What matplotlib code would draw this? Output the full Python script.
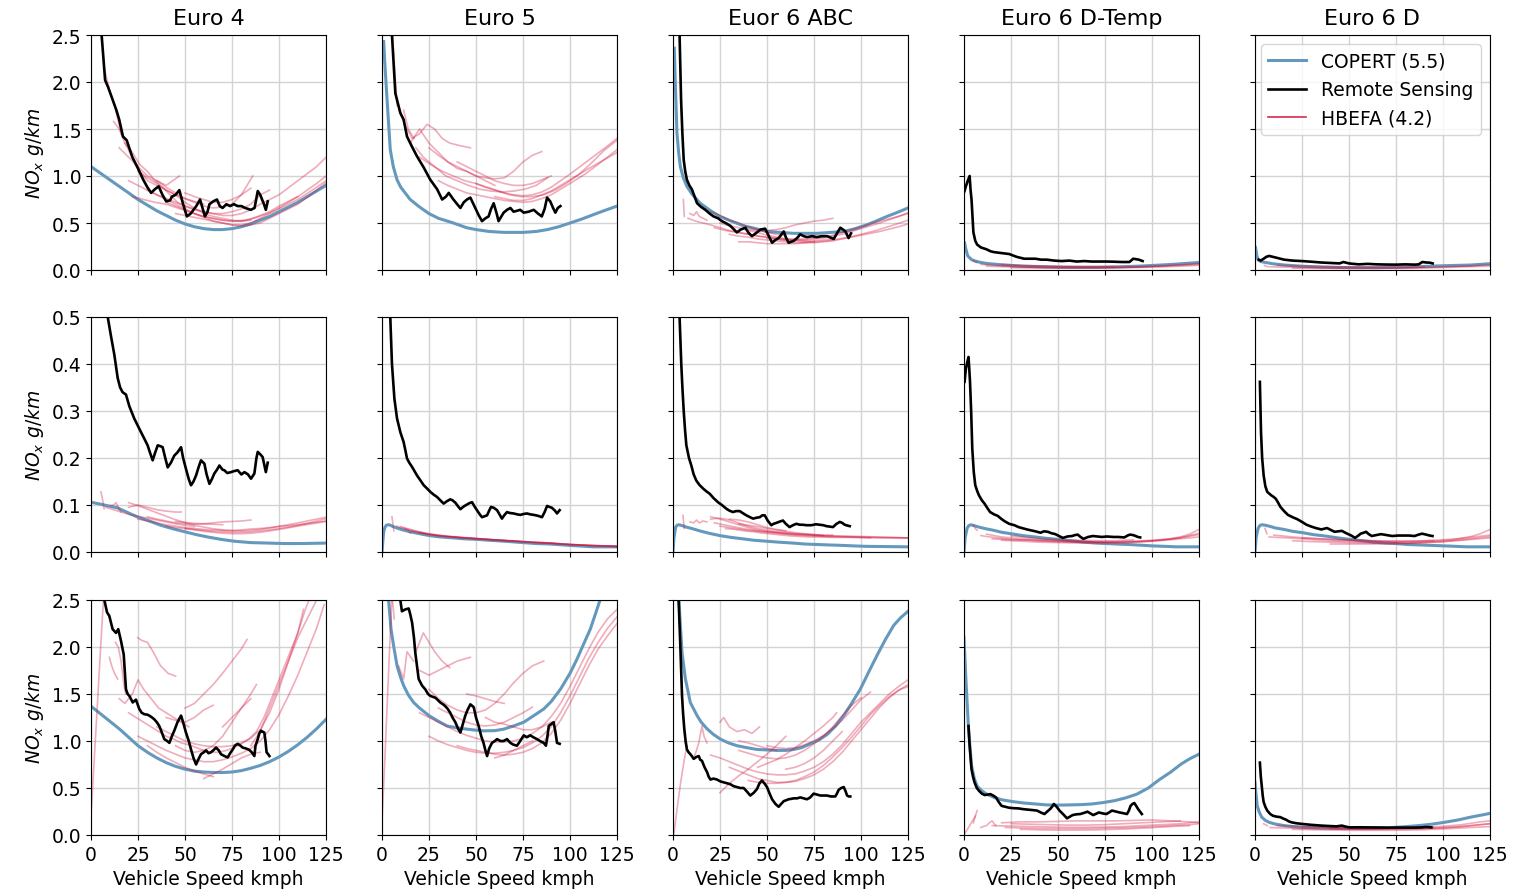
"""NOx emission factors vs vehicle speed: COPERT, remote sensing and HBEFA."""

import matplotlib
matplotlib.use('Agg')
from matplotlib import pyplot
from matplotlib.lines import Line2D

titles = ['Euro 4', 'Euro 5', 'Euor 6 ABC', 'Euro 6 D-Temp', 'Euro 6 D']
speed_ticks = [0, 25, 50, 75, 100, 125]
row_ylims = [2.5, 0.5, 2.5]
row_yticks = [[0.0, 0.5, 1.0, 1.5, 2.0, 2.5],
              [0.0, 0.1, 0.2, 0.3, 0.4, 0.5],
              [0.0, 0.5, 1.0, 1.5, 2.0, 2.5]]

# ---------------- row 1 ----------------
copert_1a = [(0, 1.10), (5, 1.03), (10, 0.96), (15, 0.89), (20, 0.82), (25, 0.75), (30, 0.69),
             (35, 0.63), (40, 0.58), (45, 0.53), (50, 0.49), (55, 0.46), (60, 0.44), (65, 0.43),
             (70, 0.43), (75, 0.44), (80, 0.46), (85, 0.49), (90, 0.53), (95, 0.57), (100, 0.62),
             (105, 0.67), (110, 0.72), (115, 0.78), (120, 0.84), (125, 0.90)]
remote_1a = [(4.5, 2.8), (7.5, 2.02), (9, 1.95), (11, 1.84), (13.5, 1.7), (15, 1.6), (17, 1.42),
             (19, 1.38), (22, 1.2), (25, 1.08), (27.8, 0.96), (30, 0.88), (32, 0.82), (34, 0.86),
             (36, 0.89), (38, 0.8), (40, 0.73), (42, 0.74), (43, 0.78), (45, 0.8), (47, 0.85),
             (49, 0.7), (51, 0.57), (53, 0.6), (56, 0.68), (58, 0.75), (60.6, 0.57), (62, 0.62),
             (63, 0.7), (65, 0.73), (67, 0.75), (68.5, 0.68), (70, 0.66), (72, 0.7), (74, 0.68),
             (76, 0.7), (78, 0.68), (80, 0.68), (82, 0.66), (85, 0.64), (87, 0.66), (88.7, 0.84),
             (90, 0.8), (91, 0.75), (92, 0.7), (93, 0.64), (94, 0.73)]
hbefa_1a = [
    [(5, 2.6), (7, 2.15), (10, 1.9), (13, 1.72), (16, 1.45), (19, 1.38)],
    [(12, 1.58), (15, 1.5), (18, 1.35), (22, 1.2), (26, 1.05), (30, 0.95), (35, 0.9), (40, 0.85),
     (45, 0.8), (50, 0.76), (55, 0.73), (60, 0.7)],
    [(15, 1.3), (20, 1.2), (25, 1.1), (30, 1.0), (35, 0.95), (40, 0.9), (47, 1.0)],
    [(18, 1.35), (22, 1.25), (26, 1.12), (30, 1.05), (34, 0.95), (38, 0.88), (42, 0.8), (46, 0.72),
     (50, 0.68), (55, 0.64), (60, 0.62), (65, 0.6), (70, 0.6), (75, 0.62), (80, 0.65), (85, 0.7),
     (90, 0.8), (95, 0.85)],
    [(20, 0.95), (25, 0.9), (30, 0.85), (35, 0.8), (40, 0.76), (45, 0.72), (50, 0.68), (55, 0.65),
     (60, 0.62), (65, 0.6), (70, 0.58), (75, 0.58), (80, 0.6), (85, 0.64), (90, 0.7), (100, 0.8),
     (110, 0.95), (120, 1.1), (125, 1.2)],
    [(22, 0.78), (28, 0.75), (34, 0.72), (40, 0.7), (46, 0.66), (52, 0.62), (58, 0.58), (64, 0.55),
     (70, 0.53), (76, 0.52), (82, 0.53), (88, 0.56), (94, 0.6), (100, 0.66), (110, 0.78),
     (120, 0.92), (125, 1.0)],
    [(25, 1.05), (30, 0.98), (35, 0.92), (40, 0.85), (45, 0.8), (50, 0.72), (55, 0.66), (60, 0.6),
     (65, 0.57), (70, 0.55), (75, 0.53), (80, 0.52), (85, 0.53)],
    [(30, 0.85), (35, 0.8), (40, 0.75), (45, 0.7), (50, 0.65), (55, 0.6), (60, 0.56), (65, 0.52),
     (70, 0.5), (75, 0.48), (80, 0.47), (85, 0.48), (90, 0.5), (95, 0.55), (100, 0.6), (110, 0.7),
     (120, 0.85), (125, 0.93)],
    [(35, 0.95), (40, 0.88), (45, 0.82), (50, 0.76), (55, 0.72), (60, 0.68), (65, 0.66), (70, 0.67),
     (75, 0.7), (80, 0.8), (86, 1.0)],
    [(40, 0.72), (45, 0.68), (50, 0.64), (55, 0.6), (60, 0.57), (65, 0.55), (70, 0.53), (75, 0.52),
     (80, 0.52), (85, 0.54), (90, 0.58), (95, 0.62), (100, 0.68), (105, 0.73), (110, 0.78)],
    [(45, 0.6), (50, 0.58), (55, 0.56), (60, 0.54), (65, 0.52), (70, 0.5), (75, 0.48), (80, 0.48),
     (85, 0.5), (90, 0.55), (95, 0.6), (100, 0.65), (110, 0.75), (120, 0.88), (125, 0.95)],
    [(50, 0.82), (55, 0.78), (60, 0.75), (65, 0.72), (70, 0.72), (75, 0.75), (80, 0.8), (85, 0.87)],
]

copert_1b = [(0.9, 2.43), (1.5, 2.2), (2.7, 1.81), (4.4, 1.28), (6, 1.1), (8, 0.96), (10, 0.88),
             (15, 0.75), (20, 0.67), (25, 0.60), (30, 0.55), (38, 0.50), (45, 0.45), (50, 0.43),
             (57, 0.41), (65, 0.40), (75, 0.40), (82, 0.41), (88, 0.43), (94, 0.46), (100, 0.50),
             (106, 0.54), (112.6, 0.59), (118, 0.63), (125, 0.68)]
remote_1b = [(5, 2.6), (5.3, 2.5), (7.1, 1.88), (9.75, 1.67), (11.5, 1.6), (13.3, 1.42), (16, 1.31),
             (18.6, 1.21), (22.2, 1.09), (25.7, 0.96), (29.3, 0.86), (32, 0.75), (34, 0.78),
             (35.5, 0.82), (38, 0.75), (40, 0.7), (41.7, 0.66), (43.5, 0.72), (45.2, 0.75), (47, 0.77),
             (49.6, 0.66), (51.5, 0.58), (53.2, 0.52), (55, 0.55), (56.7, 0.57), (58, 0.65),
             (59.4, 0.71), (61, 0.6), (62, 0.52), (64.7, 0.61), (66.5, 0.64), (68.3, 0.66), (70, 0.62),
             (71.8, 0.63), (73.5, 0.64), (75.4, 0.61), (78, 0.62), (80.7, 0.64), (83, 0.6), (85, 0.57),
             (86.5, 0.65), (87.8, 0.77), (89.5, 0.73), (91, 0.66), (92.2, 0.61), (93.5, 0.66),
             (94.9, 0.68)]
hbefa_1b = [
    [(5.5, 2.5), (6.5, 2.2), (7.5, 1.9), (8, 1.75)],
    [(11.5, 1.7), (14, 1.5), (17, 1.4)],
    [(9.5, 1.7), (12, 1.55), (16, 1.4), (20, 1.45), (24, 1.55), (28, 1.5), (32, 1.4), (36, 1.35),
     (42, 1.32), (47, 1.3)],
    [(15, 1.35), (20, 1.5), (25, 1.35), (30, 1.25), (35, 1.15), (40, 1.1), (45, 1.05), (50, 1.0),
     (55, 0.95), (60, 0.9)],
    [(18, 1.3), (22, 1.2), (28, 1.1), (34, 1.0), (40, 0.95), (46, 0.9), (52, 0.86), (58, 0.84),
     (64, 0.83), (70, 0.84), (76, 0.86), (82, 0.9), (88, 0.98)],
    [(20, 1.2), (26, 1.12), (32, 1.05), (38, 1.0), (44, 0.95), (50, 0.92), (56, 0.88), (62, 0.84),
     (68, 0.8), (74, 0.78), (80, 0.78), (86, 0.8), (92, 0.85), (98, 0.92), (105, 1.02), (112, 1.15),
     (118, 1.27), (125, 1.38)],
    [(25, 1.3), (30, 1.22), (35, 1.15), (40, 1.08), (45, 1.05), (50, 1.0), (55, 0.98), (60, 0.97),
     (65, 0.98), (70, 1.05), (75, 1.15), (80, 1.22), (85, 1.26)],
    [(30, 0.95), (35, 0.9), (40, 0.86), (45, 0.82), (50, 0.8), (55, 0.78), (60, 0.76), (65, 0.74),
     (70, 0.73), (75, 0.72), (80, 0.73), (85, 0.76), (90, 0.8), (95, 0.86), (100, 0.92), (108, 1.02),
     (116, 1.14), (125, 1.28)],
    [(40, 1.15), (45, 1.1), (50, 1.05), (55, 1.0), (60, 0.95), (65, 0.92), (70, 0.9), (75, 0.9),
     (80, 0.92), (85, 0.96), (90, 1.0)],
    [(50, 0.92), (55, 0.88), (60, 0.85), (65, 0.82), (70, 0.8), (75, 0.79), (80, 0.8), (85, 0.83),
     (90, 0.88), (95, 0.95), (100, 1.02), (110, 1.17), (120, 1.32), (125, 1.4)],
    [(60, 0.78), (65, 0.76), (70, 0.74), (75, 0.74), (80, 0.76), (85, 0.8), (90, 0.84), (95, 0.9),
     (100, 0.96), (110, 1.08), (125, 1.25)],
]

copert_1c = [(0.7, 2.36), (1.2, 2.0), (2.1, 1.46), (3, 1.25), (3.9, 1.10), (5.5, 0.98), (7.4, 0.89),
             (10, 0.81), (14.5, 0.71), (20, 0.63), (25, 0.57), (31, 0.52), (37.6, 0.47), (44, 0.44),
             (50, 0.41), (57, 0.40), (64, 0.39), (70, 0.39), (76.6, 0.39), (84, 0.40), (90.8, 0.41),
             (97, 0.44), (103, 0.48), (108, 0.52), (113.8, 0.57), (119, 0.61), (125, 0.66)]
remote_1c = [(3.3, 2.7), (3.5, 2.5), (4.3, 1.81), (5, 1.45), (5.7, 1.17), (6.5, 1.05), (7.4, 0.96),
             (8.7, 0.9), (10, 0.86), (11.5, 0.78), (12.8, 0.71), (15, 0.67), (17.2, 0.64), (19.5, 0.6),
             (21.6, 0.57), (24, 0.55), (26, 0.52), (28, 0.5), (30.5, 0.47), (32, 0.44), (34, 0.40),
             (36, 0.43), (38.5, 0.45), (40, 0.4), (42, 0.36), (44, 0.39), (46.5, 0.43), (49, 0.44),
             (51, 0.36), (52.7, 0.29), (54.5, 0.32), (56.2, 0.34), (58.9, 0.41), (60, 0.35),
             (61.5, 0.29), (64.2, 0.31), (66, 0.34), (67.7, 0.38), (69.5, 0.36), (71.3, 0.35),
             (74, 0.36), (76.6, 0.35), (79, 0.36), (82, 0.36), (85.5, 0.33), (87.5, 0.4), (89, 0.45),
             (90.5, 0.43), (91.7, 0.41), (93.4, 0.34), (94.7, 0.39)]
hbefa_1c = [
    [(5.5, 0.75), (5.8, 0.65), (6, 0.57)],
    [(9, 0.6), (11, 0.58), (12.5, 0.62), (14, 0.57), (16, 0.55), (18, 0.53)],
    [(8, 0.55), (12, 0.52), (16, 0.5), (20, 0.48), (25, 0.45), (30, 0.42), (35, 0.4), (40, 0.38),
     (45, 0.36), (50, 0.35), (55, 0.34), (60, 0.33), (65, 0.33), (70, 0.33), (75, 0.34), (80, 0.35),
     (85, 0.37), (90, 0.4), (95, 0.43), (100, 0.46), (110, 0.52), (118, 0.56), (125, 0.6)],
    [(20, 0.62), (25, 0.58), (30, 0.53), (35, 0.5), (40, 0.46), (45, 0.43), (50, 0.4), (55, 0.38),
     (60, 0.37)],
    [(22, 0.45), (28, 0.42), (34, 0.4), (40, 0.38), (46, 0.36), (52, 0.34), (58, 0.32), (64, 0.31),
     (70, 0.3), (76, 0.3), (82, 0.31), (88, 0.33), (94, 0.35), (100, 0.38), (108, 0.42), (116, 0.47),
     (125, 0.53)],
    [(25, 0.5), (30, 0.47), (35, 0.45), (40, 0.42), (45, 0.4), (50, 0.37), (55, 0.35), (60, 0.33),
     (65, 0.32), (70, 0.31), (75, 0.31), (80, 0.32), (85, 0.33)],
    [(30, 0.38), (35, 0.36), (40, 0.35), (45, 0.33), (50, 0.32), (55, 0.31), (60, 0.3), (65, 0.29),
     (70, 0.29), (75, 0.29), (80, 0.3), (85, 0.31), (90, 0.33), (95, 0.35), (100, 0.37), (110, 0.41),
     (120, 0.46), (125, 0.49)],
    [(40, 0.43), (45, 0.42), (50, 0.42), (55, 0.43), (60, 0.45), (65, 0.48), (70, 0.5), (75, 0.52),
     (80, 0.53), (85, 0.55)],
    [(50, 0.34), (55, 0.33), (60, 0.32), (65, 0.32), (70, 0.32), (75, 0.33), (80, 0.34), (85, 0.36),
     (90, 0.38), (95, 0.41), (100, 0.44), (110, 0.5), (120, 0.57), (125, 0.61)],
    [(35, 0.3), (40, 0.3), (45, 0.29), (50, 0.28), (55, 0.28), (60, 0.28), (65, 0.28), (70, 0.29),
     (75, 0.3)],
]

copert_1d = [(0.3, 0.29), (1, 0.22), (2, 0.15), (4, 0.11), (6, 0.095), (9, 0.08), (12, 0.07),
             (20, 0.055), (32, 0.04), (42, 0.034), (52, 0.03), (62, 0.029), (72, 0.03), (82, 0.034),
             (92, 0.04), (102, 0.05), (111, 0.06), (118, 0.07), (125, 0.08)]
remote_1d = [(0.3, 0.84), (1, 0.89), (2, 0.95), (3, 1.0), (3.5, 0.85), (4, 0.75), (5, 0.4), (6, 0.31),
             (7, 0.27), (9, 0.24), (12, 0.22), (14, 0.2), (16, 0.19), (20, 0.18), (24, 0.17),
             (28, 0.14), (32, 0.12), (35, 0.12), (38, 0.12), (41, 0.11), (44, 0.11), (48, 0.10),
             (52, 0.095), (56, 0.1), (60, 0.09), (64, 0.095), (68, 0.09), (72, 0.09), (76, 0.09),
             (80, 0.088), (84, 0.085), (88, 0.085), (90, 0.12), (91.5, 0.115), (93, 0.11), (95, 0.095)]
hbefa_1d = [
    [(5, 0.1), (6, 0.085), (7, 0.08)],
    [(9, 0.06), (15, 0.05), (25, 0.045), (35, 0.04), (45, 0.035), (55, 0.032), (65, 0.03), (75, 0.03),
     (85, 0.032), (95, 0.036), (105, 0.045), (115, 0.055), (125, 0.068)],
    [(12, 0.04), (20, 0.035), (30, 0.03), (40, 0.027), (50, 0.025), (60, 0.024), (70, 0.024),
     (80, 0.026), (90, 0.03), (100, 0.036), (110, 0.045), (125, 0.06)],
    [(20, 0.06), (30, 0.05), (40, 0.045), (50, 0.04), (60, 0.037), (70, 0.035), (80, 0.035)],
    [(25, 0.025), (35, 0.022), (45, 0.02), (55, 0.02), (65, 0.02), (75, 0.021), (85, 0.023),
     (95, 0.027), (105, 0.033), (115, 0.04), (125, 0.05)],
]

copert_1e = [(0.3, 0.24), (1, 0.15), (1.6, 0.11), (3, 0.09), (5.6, 0.08), (10, 0.065), (15.5, 0.053),
             (25, 0.04), (35, 0.032), (45, 0.027), (55, 0.025), (65, 0.025), (75, 0.028), (85, 0.034),
             (95, 0.042), (105, 0.048), (115, 0.053), (125, 0.067)]
remote_1e = [(2, 0.11), (3, 0.1), (4.6, 0.12), (6, 0.14), (7.5, 0.15), (9.5, 0.14), (11.5, 0.13),
             (13.5, 0.12), (15.5, 0.11), (20, 0.1), (25, 0.095), (30, 0.088), (35, 0.08), (40, 0.075),
             (45, 0.07), (47, 0.085), (50, 0.07), (55, 0.06), (60, 0.065), (65, 0.06), (70, 0.058),
             (75, 0.057), (80, 0.06), (85, 0.057), (87, 0.06), (89, 0.085), (91, 0.08), (93, 0.078),
             (94.5, 0.07)]
hbefa_1e = [
    [(5, 0.05), (6, 0.04), (7, 0.035)],
    [(8, 0.035), (15, 0.03), (25, 0.027), (35, 0.025), (45, 0.023), (55, 0.022), (65, 0.022),
     (75, 0.023), (85, 0.025), (95, 0.03), (105, 0.037), (115, 0.045), (125, 0.055)],
    [(12, 0.05), (20, 0.045), (30, 0.04), (40, 0.036), (50, 0.033), (60, 0.03), (70, 0.03), (80, 0.03),
     (90, 0.033)],
    [(20, 0.02), (30, 0.018), (40, 0.017), (50, 0.016), (60, 0.016), (70, 0.017), (80, 0.018),
     (90, 0.021), (100, 0.026), (110, 0.032), (125, 0.042)],
]

# ---------------- row 2 ----------------
copert_2a = [(0, 0.106), (7, 0.1), (14, 0.094), (20, 0.083), (25, 0.074), (31, 0.066), (37, 0.057),
             (43, 0.05), (50, 0.043), (56, 0.037), (62, 0.032), (69, 0.027), (76, 0.023), (85, 0.02),
             (94, 0.019), (103, 0.018), (112, 0.018), (125, 0.019)]
remote_2a = [(8.5, 0.53), (8.9, 0.5), (10.6, 0.46), (12.4, 0.42), (14.2, 0.37), (15.5, 0.35),
             (16.8, 0.34), (18.6, 0.335), (20.4, 0.31), (23, 0.284), (26.6, 0.255), (28.5, 0.24),
             (30.1, 0.227), (31.5, 0.21), (32.8, 0.195), (34, 0.21), (35.5, 0.227), (37, 0.225),
             (38.1, 0.223), (39.5, 0.2), (40.8, 0.18), (42.5, 0.19), (44.3, 0.205), (46, 0.212),
             (47.9, 0.223), (49, 0.2), (50.5, 0.177), (52, 0.155), (53.2, 0.142), (54.5, 0.15),
             (55.9, 0.163), (57.2, 0.18), (58.5, 0.195), (60.3, 0.188), (61.5, 0.165), (63, 0.145),
             (64.3, 0.155), (65.6, 0.167), (67, 0.175), (68.3, 0.184), (70, 0.175), (70.9, 0.174),
             (72.5, 0.168), (74.5, 0.17), (76, 0.172), (78, 0.174), (80, 0.165), (81.6, 0.17),
             (83.5, 0.165), (85.1, 0.156), (86.9, 0.167), (88, 0.2), (88.7, 0.213), (90, 0.208),
             (91.3, 0.202), (92.2, 0.185), (93, 0.17), (94, 0.19)]
hbefa_2a = [
    [(5.3, 0.128), (6, 0.115), (7, 0.092)],
    [(10.6, 0.099), (12, 0.1), (13.3, 0.105), (14.5, 0.095), (16, 0.085)],
    [(8, 0.095), (12, 0.09), (16, 0.085), (20, 0.08), (25, 0.076), (30, 0.072), (35, 0.068),
     (40, 0.064), (45, 0.06), (50, 0.057), (55, 0.054)],
    [(20, 0.105), (24, 0.1), (28, 0.094), (32, 0.088), (36, 0.082), (40, 0.076), (44, 0.07),
     (48, 0.065), (52, 0.06), (56, 0.056), (60, 0.053), (64, 0.05), (68, 0.048), (72, 0.046),
     (76, 0.045), (80, 0.045), (85, 0.046), (90, 0.048), (95, 0.051), (100, 0.055), (105, 0.058),
     (110, 0.062), (115, 0.066), (120, 0.07), (125, 0.074)],
    [(20, 0.095), (25, 0.1), (30, 0.095), (35, 0.09), (40, 0.087), (45, 0.085), (48, 0.085)],
    [(25, 0.07), (30, 0.066), (35, 0.062), (40, 0.058), (45, 0.055), (50, 0.052), (55, 0.05),
     (60, 0.048), (65, 0.047), (70, 0.046), (75, 0.046), (80, 0.047), (85, 0.049), (90, 0.05),
     (95, 0.052), (100, 0.054), (110, 0.058), (125, 0.066)],
    [(30, 0.075), (35, 0.07), (40, 0.066), (45, 0.062), (50, 0.06), (55, 0.059), (60, 0.06),
     (65, 0.062), (70, 0.064), (75, 0.065), (80, 0.066), (85, 0.068)],
    [(40, 0.055), (45, 0.052), (50, 0.05), (55, 0.048), (60, 0.046), (65, 0.044), (70, 0.043),
     (75, 0.042), (80, 0.042), (85, 0.043), (90, 0.045), (95, 0.047), (100, 0.05), (105, 0.053),
     (110, 0.057), (115, 0.061), (120, 0.066), (125, 0.071)],
    [(45, 0.065), (50, 0.063), (55, 0.061), (60, 0.06), (65, 0.059), (70, 0.058)],
    [(50, 0.05), (55, 0.047), (60, 0.044), (65, 0.042), (70, 0.04), (75, 0.039), (80, 0.039),
     (85, 0.04), (90, 0.042), (95, 0.045), (100, 0.048), (110, 0.055), (125, 0.065)],
]

copert_2b = [(0, 0), (0.5, 0.025), (0.9, 0.043), (1.5, 0.052), (2.3, 0.057), (3.5, 0.058),
             (4.4, 0.057), (6, 0.054), (8, 0.051), (11, 0.047), (15, 0.043), (20, 0.039), (25, 0.035),
             (31, 0.032), (38, 0.03), (44, 0.028), (50, 0.027), (57, 0.025), (65, 0.023), (75, 0.02),
             (82, 0.018), (89.5, 0.017), (100, 0.014), (112.6, 0.011), (125, 0.011)]
remote_2b = [(4.3, 0.53), (4.4, 0.5), (5.3, 0.40), (6.6, 0.326), (8, 0.284), (9.75, 0.255),
             (11.5, 0.234), (12.5, 0.215), (13.3, 0.199), (14.5, 0.19), (16, 0.181), (18.6, 0.163),
             (20.5, 0.152), (22.2, 0.142), (24, 0.135), (25.7, 0.128), (27.5, 0.122), (29.3, 0.117),
             (31, 0.11), (32.8, 0.103), (34.5, 0.108), (36.3, 0.112), (37.5, 0.11), (39, 0.105),
             (40.5, 0.097), (41.7, 0.091), (43.5, 0.097), (45.2, 0.101), (46.5, 0.104), (47.9, 0.106),
             (49.2, 0.097), (50.5, 0.089), (52, 0.08), (53.2, 0.074), (54.5, 0.076), (55.9, 0.078),
             (57, 0.088), (58, 0.096), (59.5, 0.094), (61.2, 0.089), (62.5, 0.08), (63.8, 0.071),
             (65, 0.078), (66.5, 0.085), (68, 0.083), (70, 0.082), (72, 0.08), (73.6, 0.079),
             (75.5, 0.081), (77.1, 0.082), (79, 0.08), (80.7, 0.079), (83, 0.077), (85.1, 0.074),
             (86.5, 0.085), (87.8, 0.098), (89, 0.096), (90.4, 0.094), (92, 0.088), (93.1, 0.082),
             (94.5, 0.089)]
hbefa_2b = [
    [(5.3, 0.075), (5.8, 0.06), (6.3, 0.045)],
    [(8, 0.055), (10, 0.052), (12, 0.05), (14, 0.046), (15, 0.04), (16, 0.044), (20, 0.04),
     (25, 0.037), (30, 0.034), (40, 0.031), (50, 0.028), (60, 0.025), (70, 0.023), (80, 0.02),
     (90, 0.018), (100, 0.016), (110, 0.014), (125, 0.012)],
    [(10, 0.054), (15, 0.048), (20, 0.043), (25, 0.039), (30, 0.036), (40, 0.032), (50, 0.029),
     (60, 0.026), (70, 0.024), (80, 0.021), (90, 0.019), (100, 0.016), (110, 0.014), (125, 0.012)],
    [(12, 0.05), (18, 0.044), (25, 0.038), (35, 0.033), (45, 0.03), (55, 0.027), (65, 0.024),
     (75, 0.022), (85, 0.02), (95, 0.017), (105, 0.015), (115, 0.013), (125, 0.011)],
    [(20, 0.041), (30, 0.035), (40, 0.031), (50, 0.028), (60, 0.026), (70, 0.023), (80, 0.021),
     (90, 0.019), (100, 0.016), (125, 0.012)],
]

copert_2c = [(0, 0), (0.5, 0.03), (1.4, 0.053), (2.2, 0.057), (3.2, 0.058), (5, 0.056), (7.1, 0.053),
             (10, 0.05), (14.2, 0.045), (19, 0.04), (24.8, 0.035), (31, 0.031), (37.2, 0.028),
             (43, 0.025), (49.6, 0.023), (56, 0.021), (63.8, 0.019), (70, 0.017), (76.2, 0.016),
             (83, 0.015), (90.4, 0.014), (96, 0.013), (102.8, 0.012), (114, 0.0115), (125, 0.011)]
remote_2c = [(3.3, 0.53), (3.5, 0.5), (4.4, 0.40), (5, 0.35), (5.7, 0.30), (6.4, 0.26), (7.1, 0.227),
             (8.5, 0.2), (9.75, 0.184), (11, 0.165), (12.4, 0.152), (14, 0.143), (16, 0.135),
             (17.8, 0.129), (19.5, 0.124), (21.5, 0.115), (23.9, 0.106), (26, 0.1), (28.4, 0.092),
             (30, 0.088), (31.9, 0.085), (33.5, 0.087), (35.5, 0.087), (37, 0.083), (39, 0.078),
             (41, 0.074), (42.6, 0.071), (44.5, 0.073), (46.1, 0.074), (47.5, 0.078), (48.8, 0.078),
             (50.5, 0.066), (52.3, 0.057), (53.5, 0.06), (55, 0.062), (57, 0.065), (58.5, 0.067),
             (60, 0.06), (62, 0.053), (63.8, 0.057), (65.6, 0.06), (67.5, 0.058), (69.1, 0.058),
             (71, 0.057), (73.6, 0.057), (76, 0.059), (78, 0.058), (80, 0.057), (81.6, 0.055),
             (83.5, 0.054), (85.1, 0.053), (87, 0.06), (88.7, 0.064), (90, 0.062), (91.3, 0.058),
             (93, 0.056), (94, 0.055)]
hbefa_2c = [
    [(5.3, 0.078), (5.6, 0.065), (6, 0.05)],
    [(9, 0.064), (11, 0.062), (12.5, 0.068), (14, 0.062), (16, 0.066), (18, 0.064)],
    [(20, 0.075), (25, 0.07), (30, 0.064), (35, 0.058), (40, 0.052), (45, 0.047), (50, 0.044),
     (55, 0.042), (60, 0.04), (70, 0.037), (80, 0.035), (90, 0.034), (100, 0.033), (110, 0.032),
     (125, 0.03)],
    [(20, 0.07), (24, 0.072), (28, 0.07), (32, 0.066), (36, 0.06), (40, 0.055), (45, 0.05),
     (50, 0.046), (55, 0.043), (60, 0.041), (65, 0.039), (70, 0.038), (75, 0.037), (80, 0.036),
     (85, 0.036)],
    [(22, 0.062), (27, 0.058), (32, 0.054), (37, 0.05), (42, 0.047), (47, 0.044), (52, 0.042),
     (57, 0.04), (62, 0.038), (67, 0.037), (72, 0.036), (77, 0.035), (82, 0.034), (90, 0.033),
     (100, 0.032), (110, 0.031), (125, 0.03)],
    [(25, 0.055), (30, 0.052), (35, 0.049), (40, 0.046), (45, 0.044), (50, 0.042), (55, 0.04),
     (60, 0.038), (65, 0.036), (70, 0.035), (75, 0.034), (80, 0.033), (90, 0.032), (100, 0.031),
     (110, 0.03), (125, 0.03)],
    [(28, 0.05), (33, 0.048), (38, 0.045), (43, 0.043), (48, 0.04), (53, 0.038), (58, 0.036),
     (63, 0.034), (68, 0.033), (73, 0.032), (78, 0.032), (85, 0.031), (95, 0.031), (105, 0.03)],
    [(30, 0.07), (35, 0.068), (40, 0.064), (45, 0.058), (50, 0.052), (55, 0.048), (60, 0.045)],
    [(35, 0.06), (40, 0.057), (45, 0.054), (50, 0.05), (55, 0.047), (60, 0.044), (65, 0.041),
     (70, 0.039), (75, 0.037), (80, 0.035)],
]

copert_2d = [(0, 0), (0.6, 0.03), (1.6, 0.05), (2.5, 0.056), (3.6, 0.058), (5.5, 0.056), (7.9, 0.053),
             (11, 0.05), (15.9, 0.046), (20, 0.042), (24.8, 0.039), (31, 0.035), (37.7, 0.032),
             (44, 0.029), (50, 0.027), (57, 0.024), (63.5, 0.021), (70, 0.019), (75.4, 0.018),
             (81, 0.017), (87.3, 0.016), (94, 0.0145), (100.2, 0.013), (107, 0.012), (113, 0.011),
             (125, 0.011)]
remote_2d = [(0.3, 0.362), (1, 0.39), (1.8, 0.405), (2.4, 0.415), (2.8, 0.39), (3.2, 0.362),
             (3.8, 0.3), (4.4, 0.22), (5.2, 0.17), (6, 0.142), (7, 0.13), (7.9, 0.121), (9.5, 0.11),
             (10.9, 0.103), (12.5, 0.093), (13.9, 0.085), (16, 0.08), (17.9, 0.077), (20, 0.07),
             (21.8, 0.065), (24, 0.06), (26.8, 0.057), (29, 0.053), (31.7, 0.05), (33.5, 0.048),
             (35.7, 0.046), (38, 0.044), (40.7, 0.041), (42.5, 0.044), (44.6, 0.043), (46.5, 0.04),
             (48.6, 0.038), (50.5, 0.034), (52.6, 0.03), (55, 0.033), (57.5, 0.034), (59, 0.036),
             (60.5, 0.037), (62, 0.032), (63.5, 0.028), (66, 0.032), (68.5, 0.034), (71, 0.033),
             (73.4, 0.032), (76, 0.033), (79.4, 0.032), (82, 0.032), (85.3, 0.031), (87, 0.035),
             (88.3, 0.037), (90, 0.036), (91.3, 0.034), (92.5, 0.032), (93.7, 0.031)]
hbefa_2d = [
    [(5, 0.057), (6, 0.05), (7, 0.046)],
    [(9, 0.035), (12, 0.033), (16, 0.031), (20, 0.029), (25, 0.027), (30, 0.026), (40, 0.024),
     (50, 0.022), (60, 0.021), (70, 0.021), (80, 0.021), (90, 0.022), (100, 0.024), (108, 0.027),
     (115, 0.032), (120, 0.038), (125, 0.048)],
    [(12, 0.038), (16, 0.035), (20, 0.032), (25, 0.03), (30, 0.028), (40, 0.026), (50, 0.024),
     (60, 0.023), (70, 0.022), (80, 0.022), (90, 0.023), (100, 0.025), (110, 0.028), (118, 0.032),
     (125, 0.037)],
    [(20, 0.025), (30, 0.023), (40, 0.021), (50, 0.02), (60, 0.019), (70, 0.019), (80, 0.02),
     (90, 0.021), (100, 0.023), (110, 0.026), (125, 0.032)],
    [(25, 0.034), (30, 0.032), (35, 0.03), (40, 0.028), (45, 0.027), (50, 0.026), (55, 0.025),
     (60, 0.025), (65, 0.025), (70, 0.024), (75, 0.024), (80, 0.024), (85, 0.025), (90, 0.026)],
    [(15, 0.028), (25, 0.026), (35, 0.025), (45, 0.023), (55, 0.022), (65, 0.021), (75, 0.02),
     (85, 0.02), (95, 0.022), (105, 0.025), (115, 0.03), (125, 0.04)],
]

copert_2e = [(0, 0), (0.6, 0.03), (1.6, 0.05), (2.5, 0.056), (3.6, 0.058), (5.5, 0.057), (7.5, 0.055),
             (11, 0.051), (15.5, 0.048), (20, 0.044), (25.4, 0.041), (31, 0.037), (37.3, 0.034),
             (44, 0.03), (50.2, 0.027), (57, 0.024), (63, 0.021), (70, 0.019), (75, 0.018),
             (81, 0.016), (87.9, 0.015), (94, 0.014), (100.8, 0.013), (107, 0.012), (112.7, 0.011),
             (125, 0.011)]
remote_2e = [(2.6, 0.362), (3.2, 0.255), (3.8, 0.2), (4.6, 0.163), (5.5, 0.14), (6.5, 0.128),
             (8.5, 0.121), (10, 0.117), (11.1, 0.113), (12.3, 0.105), (13.5, 0.096), (15.5, 0.087),
             (17.5, 0.079), (20, 0.074), (22.4, 0.07), (25, 0.064), (27.4, 0.058), (30, 0.054),
             (32.3, 0.051), (35.3, 0.048), (38.3, 0.051), (40.3, 0.047), (42.3, 0.043), (44.3, 0.044),
             (46.2, 0.045), (48.5, 0.04), (51.2, 0.035), (53.2, 0.03), (55, 0.035), (56.2, 0.039),
             (57.8, 0.041), (59.1, 0.043), (60.5, 0.038), (62.1, 0.034), (64.5, 0.036), (67, 0.038),
             (70, 0.036), (73, 0.034), (76, 0.035), (79, 0.035), (82, 0.035), (84.9, 0.034),
             (87, 0.037), (88.9, 0.039), (91, 0.037), (92.9, 0.035), (94.4, 0.034)]
hbefa_2e = [
    [(5.3, 0.05), (5.8, 0.045), (6.3, 0.039)],
    [(7.5, 0.032), (12, 0.031), (18, 0.03), (25, 0.028), (35, 0.025), (45, 0.023), (55, 0.022),
     (65, 0.021), (75, 0.02), (85, 0.021), (95, 0.023), (105, 0.026), (115, 0.033), (120, 0.039),
     (125, 0.048)],
    [(10, 0.036), (15, 0.034), (20, 0.032), (30, 0.029), (40, 0.027), (50, 0.025), (60, 0.024),
     (70, 0.023), (80, 0.023), (90, 0.024), (100, 0.026), (110, 0.029), (125, 0.036)],
    [(20, 0.024), (30, 0.022), (40, 0.021), (50, 0.02), (60, 0.019), (70, 0.019), (80, 0.019),
     (90, 0.02), (100, 0.022), (110, 0.025), (125, 0.03)],
    [(25, 0.03), (35, 0.028), (45, 0.026), (55, 0.025), (65, 0.024), (75, 0.023), (85, 0.023),
     (95, 0.024)],
    [(40, 0.017), (50, 0.017), (60, 0.017), (70, 0.017), (80, 0.018), (90, 0.02), (100, 0.022),
     (110, 0.026), (125, 0.033)],
]

# ---------------- row 3 ----------------
copert_3a = [(0, 1.37), (5, 1.29), (10, 1.21), (15, 1.13), (20, 1.04), (25, 0.95), (30, 0.88),
             (35, 0.82), (40, 0.77), (45, 0.73), (50, 0.70), (55, 0.68), (60, 0.67), (65, 0.665),
             (70, 0.665), (75, 0.67), (80, 0.685), (85, 0.71), (90, 0.74), (95, 0.78), (100, 0.83),
             (105, 0.89), (110, 0.96), (115, 1.04), (120, 1.13), (125, 1.23)]
remote_3a = [(6.5, 2.7), (7.1, 2.5), (8.5, 2.37), (9.75, 2.33), (11.5, 2.19), (13.3, 2.15),
             (14.5, 2.19), (16, 2.06), (17.4, 1.92), (18.6, 1.55), (19.5, 1.5), (20.4, 1.48),
             (22.2, 1.41), (23.9, 1.44), (25.7, 1.34), (27, 1.3), (28.4, 1.285), (30, 1.28),
             (31, 1.27), (32.5, 1.25), (33.7, 1.23), (35, 1.2), (36.3, 1.16), (37.5, 1.1), (39, 1.02),
             (40.5, 1.0), (41.7, 0.98), (43, 1.05), (44.3, 1.11), (46, 1.2), (47.9, 1.27), (49, 1.2),
             (50.5, 1.09), (52, 1.0), (53.2, 0.91), (54.5, 0.82), (55.9, 0.75), (57, 0.8),
             (58.5, 0.86), (60, 0.88), (61.2, 0.9), (62.5, 0.87), (63.8, 0.88), (65, 0.9),
             (66.5, 0.93), (68, 0.9), (69.1, 0.86), (71, 0.84), (72.7, 0.825), (74, 0.87),
             (75.4, 0.91), (76.5, 0.95), (78, 0.97), (79.5, 0.95), (80.7, 0.93), (82.5, 0.92),
             (84.2, 0.905), (85.5, 0.88), (86.9, 0.84), (87.5, 0.95), (88.7, 1.02), (89.5, 1.08),
             (90.4, 1.11), (91.2, 1.1), (92.2, 1.09), (92.8, 1.0), (93.4, 0.88), (94.2, 0.86),
             (94.9, 0.84)]
hbefa_3a = [
    [(0, 0.2), (2, 0.9), (4, 1.6), (6, 2.3), (7, 2.6)],
    [(9.75, 1.89), (11, 1.8), (12.5, 1.72), (14.2, 1.66)],
    [(13, 2.05), (14.5, 2.0), (16, 1.85), (17.5, 1.6), (18.5, 1.5)],
    [(24.8, 2.1), (27, 2.07), (30, 2.05), (33, 1.95), (37, 1.8), (41, 1.72), (45, 1.69)],
    [(15, 1.45), (18, 1.4), (22, 1.5), (25, 1.65), (28, 1.55), (32, 1.45), (36, 1.35), (40, 1.3),
     (44, 1.25), (48, 1.2), (52, 1.15)],
    [(20, 1.3), (24, 1.25), (28, 1.2), (32, 1.15), (36, 1.1), (40, 1.05), (44, 1.02), (48, 0.98),
     (52, 0.96), (56, 0.93), (60, 0.9), (64, 0.88), (68, 0.88), (72, 0.9), (76, 0.93), (80, 0.97),
     (84, 1.02), (88, 1.1), (92, 1.25), (96, 1.45), (100, 1.65), (105, 1.9), (110, 2.15),
     (114, 2.4), (116, 2.5)],
    [(25, 1.05), (30, 1.0), (35, 0.95), (40, 0.9), (45, 0.86), (50, 0.82), (55, 0.8), (60, 0.78),
     (65, 0.78), (70, 0.8), (75, 0.83), (80, 0.87), (85, 0.92), (90, 1.0), (95, 1.12), (100, 1.28),
     (105, 1.48), (110, 1.7), (115, 1.95), (120, 2.2), (124, 2.45)],
    [(30, 0.95), (35, 0.88), (40, 0.82), (45, 0.77), (50, 0.72), (55, 0.68), (60, 0.65), (65, 0.62)],
    [(35, 1.15), (40, 1.1), (45, 1.05), (50, 1.0), (55, 0.97), (60, 0.95), (65, 0.94), (70, 0.94),
     (75, 0.95), (80, 0.98), (85, 1.03), (90, 1.12), (95, 1.3), (100, 1.55), (105, 1.85),
     (110, 2.15), (113, 2.4)],
    [(40, 1.25), (45, 1.22), (50, 1.2), (55, 1.25), (60, 1.33), (65, 1.38)],
    [(45, 0.95), (50, 0.9), (55, 0.88), (60, 0.9), (65, 0.95), (70, 1.05), (75, 1.2), (80, 1.35),
     (85, 1.5), (88, 1.6)],
    [(50, 1.35), (55, 1.4), (60, 1.5), (65, 1.6), (70, 1.72), (75, 1.85), (80, 1.98), (83, 2.08)],
    [(60, 0.6), (65, 0.65), (70, 0.7), (75, 0.76), (80, 0.82), (85, 0.86), (90, 0.88)],
    [(70, 1.15), (75, 1.25), (80, 1.35), (85, 1.45)],
    [(85, 0.95), (90, 1.1), (95, 1.35), (100, 1.6), (105, 1.85), (110, 2.1), (115, 2.3), (120, 2.5)],
]

copert_3b = [(3.2, 2.6), (3.5, 2.5), (4.8, 2.19), (6.2, 2.01), (8, 1.80), (10, 1.67), (11.5, 1.59),
             (14, 1.49), (16.8, 1.41), (20, 1.35), (25, 1.27), (30, 1.21), (34.6, 1.16), (40, 1.14),
             (45.2, 1.126), (50, 1.115), (54, 1.108), (60, 1.11), (64.7, 1.126), (70, 1.16),
             (75.4, 1.20), (80, 1.26), (86, 1.34), (90, 1.42), (94.9, 1.55), (100, 1.72),
             (103.7, 1.87), (107, 2.02), (110.8, 2.19), (113.5, 2.35), (116, 2.5), (117, 2.56)]
remote_3b = [(9.5, 2.6), (9.75, 2.5), (10.6, 2.38), (11.5, 2.39), (12.4, 2.40), (14.2, 2.41),
             (15, 2.35), (16, 2.26), (17, 2.1), (17.7, 1.94), (18.6, 1.8), (19.5, 1.66), (21.3, 1.59),
             (23, 1.55), (24.5, 1.5), (25.7, 1.48), (27, 1.47), (28.4, 1.46), (30, 1.43), (31, 1.41),
             (32.5, 1.39), (33.7, 1.37), (35, 1.34), (36.3, 1.30), (37.5, 1.25), (39, 1.2),
             (40.5, 1.13), (41.7, 1.09), (43, 1.18), (44.3, 1.27), (45.5, 1.33), (47, 1.39),
             (48.8, 1.36), (50, 1.25), (51.4, 1.16), (52.8, 1.05), (54, 0.98), (55, 0.9), (55.9, 0.84),
             (57, 0.92), (58.5, 0.98), (60, 1.0), (61.2, 1.02), (63, 1.0), (64.7, 1.0), (66.5, 1.02),
             (68.3, 0.98), (70, 0.96), (71.8, 0.95), (73.5, 1.0), (75.4, 1.06), (77, 1.04),
             (78.9, 1.06), (80.5, 1.04), (82.4, 1.02), (84, 1.0), (86, 0.98), (87.2, 0.95),
             (88, 1.05), (88.7, 1.16), (90, 1.18), (91.3, 1.20), (92.2, 1.1), (93.1, 0.98),
             (94.5, 0.97)]
hbefa_3b = [
    [(0, 0.15), (1.5, 0.8), (3, 1.5), (4.5, 2.2), (5.2, 2.5)],
    [(5, 2.6), (5.8, 2.45), (6.5, 2.3)],
    [(8.8, 1.8), (11.5, 1.66), (13.3, 1.95), (15, 1.9), (16.8, 1.85)],
    [(18, 1.95), (20, 2.05), (22, 2.15), (25, 2.05), (28, 1.95), (32, 1.85), (36, 1.78)],
    [(20, 1.75), (25, 1.7), (30, 1.75), (35, 1.8), (40, 1.85), (45, 1.88), (47, 1.89)],
    [(25, 1.55), (30, 1.45), (35, 1.38), (40, 1.33), (45, 1.3), (50, 1.3), (55, 1.33), (60, 1.4),
     (65, 1.5), (70, 1.62), (75, 1.72), (80, 1.8), (86, 1.85)],
    [(20, 1.3), (25, 1.25), (30, 1.2), (35, 1.15), (40, 1.1), (45, 1.06), (50, 1.03), (55, 1.0),
     (60, 0.99), (65, 0.99), (70, 1.0), (75, 1.03), (80, 1.08), (85, 1.15), (90, 1.26), (95, 1.4),
     (100, 1.58), (105, 1.78), (110, 1.98), (115, 2.16), (120, 2.3), (125, 2.4)],
    [(25, 1.05), (30, 1.0), (35, 0.96), (40, 0.93), (45, 0.9), (50, 0.88), (55, 0.87), (60, 0.87),
     (65, 0.88), (70, 0.9), (75, 0.93), (80, 0.98), (85, 1.05), (90, 1.15), (95, 1.3), (100, 1.48),
     (105, 1.68), (110, 1.88), (115, 2.05), (120, 2.2), (125, 2.32)],
    [(30, 1.35), (35, 1.3), (40, 1.25), (45, 1.2), (50, 1.17), (55, 1.16), (60, 1.17), (65, 1.2),
     (70, 1.25), (75, 1.3), (80, 1.36)],
    [(40, 0.95), (45, 0.92), (50, 0.9), (55, 0.88), (60, 0.86), (65, 0.85), (70, 0.86), (75, 0.88),
     (80, 0.92), (85, 0.98), (90, 1.08), (95, 1.22), (100, 1.4), (105, 1.6), (110, 1.8),
     (115, 1.98), (120, 2.12), (125, 2.25)],
    [(45, 1.5), (50, 1.48), (55, 1.45), (60, 1.42), (65, 1.4)],
    [(55, 1.25), (60, 1.2), (65, 1.18), (70, 1.15), (75, 1.12), (80, 1.12), (85, 1.15), (90, 1.2)],
    [(60, 0.82), (65, 0.85), (70, 0.9), (75, 0.95), (80, 1.0)],
]

copert_3c = [(3, 2.6), (3.5, 2.37), (4.8, 1.94), (6.6, 1.66), (9.2, 1.41), (12.8, 1.27), (15, 1.2),
             (18.1, 1.13), (21.5, 1.07), (25.2, 1.02), (29.5, 0.98), (34, 0.95), (39, 0.93),
             (44.7, 0.91), (50, 0.905), (55.3, 0.90), (60, 0.90), (64.2, 0.91), (68.5, 0.93),
             (73, 0.97), (77.5, 1.01), (82, 1.07), (86.5, 1.16), (90.8, 1.27), (95, 1.4), (99.6, 1.55),
             (104, 1.73), (108.5, 1.91), (113, 2.08), (117.4, 2.23), (121, 2.31), (125, 2.38)]
remote_3c = [(2.8, 2.7), (3, 2.5), (3.9, 2.01), (4.8, 1.48), (5.4, 1.28), (6, 1.13), (6.7, 1.0),
             (7.4, 0.91), (8.3, 0.88), (9.2, 0.86), (10, 0.84), (11, 0.81), (12.4, 0.83), (13.7, 0.84),
             (14.5, 0.8), (15.4, 0.79), (16.8, 0.72), (18.1, 0.67), (19, 0.62), (19.9, 0.59),
             (21.5, 0.6), (23.4, 0.59), (25.2, 0.57), (27, 0.56), (28.8, 0.55), (30.5, 0.54),
             (32.2, 0.52), (34, 0.51), (35.8, 0.5), (37.6, 0.5), (39.4, 0.46), (41.1, 0.42), (43, 0.45),
             (44.7, 0.49), (46, 0.55), (47.3, 0.58), (48.6, 0.55), (50, 0.51), (51.4, 0.44),
             (52.7, 0.38), (54.5, 0.33), (56.2, 0.30), (57.5, 0.33), (58.9, 0.36), (60.2, 0.37),
             (61.5, 0.38), (63, 0.385), (64.2, 0.39), (66, 0.39), (67.7, 0.40), (69.5, 0.39),
             (71.3, 0.38), (73, 0.4), (74.8, 0.44), (76.6, 0.43), (78.4, 0.42), (80, 0.42),
             (81.9, 0.42), (84, 0.41), (86.3, 0.41), (87.2, 0.44), (88.1, 0.48), (89.5, 0.5),
             (90.8, 0.51), (91.7, 0.47), (92.6, 0.42), (93.5, 0.41), (94.3, 0.41)]
hbefa_3c = [
    [(0.4, 0), (2, 0.25), (4, 0.55), (6, 0.8), (7.4, 0.95)],
    [(5.5, 1.3), (5.8, 1.2), (6.1, 1.1), (6.5, 0.98)],
    [(11, 0.81), (12.5, 0.9), (13.7, 0.98), (15.4, 1.16), (16.5, 1.05), (18.1, 0.98)],
    [(25, 1.2), (27, 1.25), (30, 1.15), (34, 1.1), (38, 1.12), (42, 1.08), (46, 1.15)],
    [(25, 0.45), (30, 0.55), (35, 0.63), (40, 0.7), (45, 0.78), (50, 0.86), (55, 0.95), (60, 1.05)],
    [(20, 0.85), (25, 0.82), (30, 0.78), (35, 0.74), (40, 0.7), (45, 0.67), (50, 0.65), (55, 0.64),
     (60, 0.64), (65, 0.65), (70, 0.68), (75, 0.72), (80, 0.78), (85, 0.86), (90, 0.96), (95, 1.08),
     (100, 1.2), (105, 1.3), (110, 1.4), (115, 1.5), (120, 1.58), (125, 1.65)],
    [(30, 0.72), (35, 0.68), (40, 0.64), (45, 0.6), (50, 0.58), (55, 0.56), (60, 0.56), (65, 0.57),
     (70, 0.6), (75, 0.64), (80, 0.7), (85, 0.78), (90, 0.88), (95, 1.0), (100, 1.12), (105, 1.24),
     (110, 1.36), (115, 1.46), (120, 1.54), (125, 1.6)],
    [(35, 0.9), (40, 0.87), (45, 0.84), (50, 0.82), (55, 0.81), (60, 0.82), (65, 0.85), (70, 0.9),
     (75, 0.97), (80, 1.05), (85, 1.15), (90, 1.27), (95, 1.38), (100, 1.46)],
    [(40, 0.58), (45, 0.56), (50, 0.55), (55, 0.55), (60, 0.56), (65, 0.58), (70, 0.62), (75, 0.67),
     (80, 0.74), (85, 0.83), (90, 0.93), (95, 1.04), (100, 1.16), (105, 1.28), (110, 1.38),
     (115, 1.47), (120, 1.54), (125, 1.58)],
    [(45, 0.72), (50, 0.76), (55, 0.8), (60, 0.86), (65, 0.93), (70, 1.0), (75, 1.08), (80, 1.16),
     (85, 1.25), (87, 1.3)],
    [(50, 0.95), (55, 0.93), (60, 0.92), (65, 0.93), (70, 0.96), (75, 1.0), (80, 1.06), (85, 1.13),
     (90, 1.22), (95, 1.33), (100, 1.44), (105, 1.52)],
    [(35, 1.0), (40, 0.98), (45, 0.95), (50, 0.92), (55, 0.9)],
    [(60, 0.7), (65, 0.72), (70, 0.76), (75, 0.82), (80, 0.9), (85, 1.0), (90, 1.1)],
]

copert_3d = [(0, 2.10), (1, 1.66), (2.4, 1.13), (4, 0.74), (5.5, 0.6), (7, 0.52), (9.5, 0.47),
             (12, 0.435), (16, 0.4), (20, 0.375), (26, 0.355), (32, 0.34), (38, 0.33), (44, 0.32),
             (50, 0.318), (56, 0.32), (62, 0.323), (68, 0.33), (74, 0.345), (80, 0.365), (86, 0.395),
             (92, 0.435), (98, 0.5), (104, 0.59), (110, 0.67), (115.5, 0.755), (120, 0.81), (125, 0.86)]
remote_3d = [(2.4, 1.16), (3, 0.95), (4, 0.70), (4.8, 0.62), (5.6, 0.56), (6.8, 0.5), (8, 0.47),
             (9.5, 0.44), (11, 0.425), (12.5, 0.43), (14, 0.435), (15.5, 0.42), (17, 0.4),
             (18.5, 0.35), (20, 0.31), (22, 0.3), (24, 0.29), (26.5, 0.285), (28.9, 0.283),
             (31.5, 0.275), (33.9, 0.27), (36.5, 0.265), (38.8, 0.26), (40.8, 0.24), (42.8, 0.223),
             (44.3, 0.25), (45.8, 0.276), (46.8, 0.3), (47.8, 0.33), (49.3, 0.3), (50.8, 0.26),
             (52.8, 0.22), (54.8, 0.177), (56.3, 0.195), (57.8, 0.212), (59.8, 0.22), (61.8, 0.223),
             (63.8, 0.235), (65.7, 0.248), (67.2, 0.23), (68.7, 0.212), (70.2, 0.225), (71.7, 0.24),
             (73.7, 0.23), (75.7, 0.223), (77.2, 0.24), (78.7, 0.26), (80.7, 0.25), (82.7, 0.24),
             (84.7, 0.232), (86.7, 0.223), (87.7, 0.26), (88.6, 0.31), (89.6, 0.33), (90.6, 0.34),
             (91.6, 0.31), (92.6, 0.276), (93.6, 0.25), (94.6, 0.223)]
hbefa_3d = [
    [(0, 0), (3, 0.1), (6, 0.2)],
    [(5, 0.13), (6, 0.2), (7, 0.26)],
    [(9, 0.08), (11, 0.095), (12, 0.1), (13.5, 0.13), (15, 0.15), (16, 0.12), (17, 0.1)],
    [(20, 0.13), (30, 0.14), (40, 0.14), (50, 0.145), (60, 0.15), (70, 0.15), (80, 0.15),
     (90, 0.155), (100, 0.16), (110, 0.15), (120, 0.14), (125, 0.13)],
    [(22, 0.08), (30, 0.075), (40, 0.07), (50, 0.068), (60, 0.068), (70, 0.07), (80, 0.075),
     (90, 0.08), (100, 0.09), (110, 0.1), (120, 0.11), (125, 0.12)],
    [(25, 0.12), (35, 0.115), (45, 0.11), (55, 0.105), (65, 0.105), (75, 0.11), (85, 0.12),
     (95, 0.13), (105, 0.14), (115, 0.15)],
    [(30, 0.06), (40, 0.055), (50, 0.052), (60, 0.052), (70, 0.055), (80, 0.06), (90, 0.068),
     (100, 0.078), (110, 0.09), (120, 0.1)],
    [(15, 0.1), (25, 0.095), (35, 0.09), (45, 0.085), (55, 0.082), (65, 0.082), (75, 0.085),
     (85, 0.09), (95, 0.1), (105, 0.11), (115, 0.12), (125, 0.14)],
]

copert_3e = [(0, 0.56), (0.6, 0.42), (1.2, 0.31), (2.3, 0.24), (3.6, 0.19), (5.5, 0.155), (7.5, 0.135),
             (11, 0.115), (15.5, 0.10), (20, 0.09), (25.4, 0.081), (32, 0.077), (39.3, 0.074),
             (47, 0.072), (55, 0.071), (63, 0.073), (71, 0.078), (79, 0.087), (87, 0.10), (94, 0.115),
             (100.8, 0.135), (108, 0.16), (114.7, 0.19), (120, 0.21), (125, 0.23)]
remote_3e = [(2.6, 0.77), (3.1, 0.62), (3.6, 0.52), (4.1, 0.42), (4.6, 0.35), (5.5, 0.3), (6.5, 0.26),
             (8, 0.225), (9.5, 0.205), (11.5, 0.195), (13.5, 0.19), (15, 0.175), (16.5, 0.163),
             (18, 0.145), (19.4, 0.135), (22, 0.125), (25.4, 0.117), (30, 0.108), (35.3, 0.10),
             (40, 0.095), (43.3, 0.092), (46.2, 0.10), (48, 0.09), (50.2, 0.081), (55, 0.082),
             (59.1, 0.081), (65, 0.08), (71, 0.078), (77, 0.079), (82.9, 0.078), (88, 0.08),
             (91, 0.085), (93.8, 0.081)]
hbefa_3e = [
    [(4.5, 0.12), (5.5, 0.11), (6.5, 0.1)],
    [(8, 0.08), (15, 0.075), (25, 0.07), (35, 0.065), (45, 0.062), (55, 0.06), (65, 0.06), (75, 0.062),
     (85, 0.066), (95, 0.072), (105, 0.082), (115, 0.1), (125, 0.12)],
    [(12, 0.1), (20, 0.095), (30, 0.09), (40, 0.085), (50, 0.08), (60, 0.077), (70, 0.076),
     (80, 0.078), (90, 0.083), (100, 0.092), (110, 0.11), (120, 0.14), (125, 0.15)],
    [(20, 0.06), (30, 0.056), (40, 0.053), (50, 0.05), (60, 0.05), (70, 0.05), (80, 0.052),
     (90, 0.056), (100, 0.064), (110, 0.075), (125, 0.09)],
    [(25, 0.085), (35, 0.08), (45, 0.075), (55, 0.072), (65, 0.07), (75, 0.07), (85, 0.072),
     (95, 0.078)],
    [(40, 0.065), (50, 0.063), (60, 0.062), (70, 0.063), (80, 0.066), (90, 0.07), (100, 0.078),
     (110, 0.09), (120, 0.11), (125, 0.12)],
]

copert = [[copert_1a, copert_1b, copert_1c, copert_1d, copert_1e],
          [copert_2a, copert_2b, copert_2c, copert_2d, copert_2e],
          [copert_3a, copert_3b, copert_3c, copert_3d, copert_3e]]
remote = [[remote_1a, remote_1b, remote_1c, remote_1d, remote_1e],
          [remote_2a, remote_2b, remote_2c, remote_2d, remote_2e],
          [remote_3a, remote_3b, remote_3c, remote_3d, remote_3e]]
hbefa = [[hbefa_1a, hbefa_1b, hbefa_1c, hbefa_1d, hbefa_1e],
         [hbefa_2a, hbefa_2b, hbefa_2c, hbefa_2d, hbefa_2e],
         [hbefa_3a, hbefa_3b, hbefa_3c, hbefa_3d, hbefa_3e]]

blue = '#6499bd'
red = '#d3123a'

pyplot.rc('font', family='DejaVu Sans', size=13.5)
fig = pyplot.figure(figsize=(15.34, 8.95), dpi=100)

W, H = 1534.0, 895.0
lefts = [91, 382, 673, 964, 1255]
bottoms = [271, 553, 836]
size_px = 235

for r in range(3):
    for c in range(5):
        ax = fig.add_axes([lefts[c] / W, 1 - bottoms[r] / H, size_px / W, size_px / H])
        ax.grid(color='#d3d3d3', linewidth=1.0)
        ax.set_axisbelow(True)
        v, y = zip(*copert[r][c])
        ax.plot(v, y, color=blue, lw=2.2)
        for trace in hbefa[r][c]:
            v, y = zip(*trace)
            ax.plot(v, y, color=red, lw=1.2, alpha=0.35)
        v, y = zip(*remote[r][c])
        ax.plot(v, y, color='black', lw=1.9)
        ax.set_xlim(0, 125)
        ax.set_ylim(0, row_ylims[r])
        ax.set_xticks(speed_ticks)
        ax.set_yticks(row_yticks[r])
        if r == 0:
            ax.set_title(titles[c], fontsize=16, pad=8)
        if r == 2:
            ax.set_xlabel('Vehicle Speed kmph')
        else:
            ax.set_xticklabels([])
        if c == 0:
            ax.set_ylabel(r'$NO_x\ g/km$')
        else:
            ax.set_yticklabels([])
        if r == 0 and c == 4:
            handles = [Line2D([], [], color=blue, lw=2.2),
                       Line2D([], [], color='black', lw=1.9),
                       Line2D([], [], color=red, lw=1.2, alpha=0.9)]
            ax.legend(handles, ['COPERT (5.5)', 'Remote Sensing', 'HBEFA (4.2)'],
                      loc='upper right', fontsize=13.5)

fig.savefig('out.png', dpi=100)
